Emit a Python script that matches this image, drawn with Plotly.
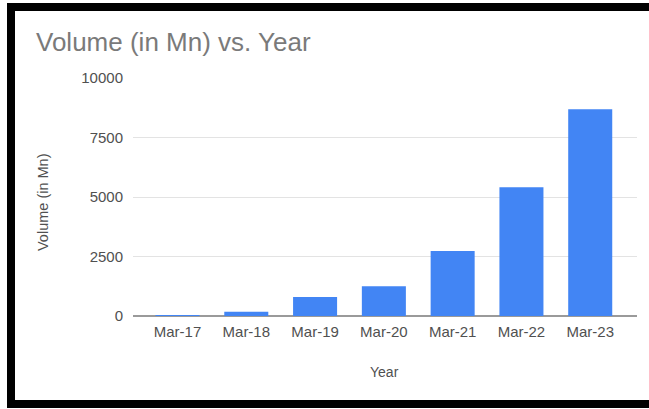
import plotly.graph_objects as go

# Monthly volume (in Mn) for each March
years = ["Mar-17", "Mar-18", "Mar-19", "Mar-20", "Mar-21", "Mar-22", "Mar-23"]
volume_mn = [6.37, 178.05, 799.54, 1246.84, 2731.68, 5405.65, 8685.28]
y_ticks = [0, 2500, 5000, 7500, 10000]

W, H = 649, 409
ML, MR, MT, MB = 133, 12, 78, 93
PW, PH = W - ML - MR, H - MT - MB


def px_x(px):
    return (px - ML) / PW


def px_y(py):
    return (H - MB - py) / PH


FONT = "Arial, Liberation Sans, sans-serif"
TEXT = "#505050"

fig = go.Figure(
    go.Bar(
        x=years,
        y=volume_mn,
        marker=dict(color="#4285F4", line=dict(width=0)),
    )
)

fig.update_layout(
    width=W,
    height=H,
    margin=dict(l=ML, r=MR, t=MT, b=MB, pad=0),
    paper_bgcolor="white",
    plot_bgcolor="white",
    bargap=0.36,
    showlegend=False,
    font=dict(family=FONT, color=TEXT),
)

fig.update_xaxes(
    type="category",
    range=[-0.647, 6.68],
    showgrid=False,
    zeroline=False,
    showline=False,
    ticks="",
    tickfont=dict(size=15, color=TEXT),
    ticklabelstandoff=5,
    fixedrange=True,
)

fig.update_yaxes(
    range=[0, 10000],
    tickvals=y_ticks,
    ticktext=[str(v) for v in y_ticks],
    showgrid=True,
    gridcolor="#e3e3e3",
    gridwidth=1,
    zeroline=True,
    zerolinecolor="#9a9a9a",
    zerolinewidth=1.5,
    showline=False,
    ticks="",
    tickfont=dict(size=15, color=TEXT),
    ticklabelstandoff=9,
    fixedrange=True,
)

annotations = [
    dict(text="Volume (in Mn) vs. Year", x=px_x(34), y=px_y(42),
         xanchor="left", yanchor="middle",
         font=dict(size=26, color="#7a7a7a", family=FONT)),
    dict(text="Volume (in Mn)", x=px_x(43), y=px_y(202), textangle=-90,
         xanchor="center", yanchor="middle",
         font=dict(size=14.5, color=TEXT, family=FONT)),
    dict(text="Year", x=px_x(384), y=px_y(372),
         xanchor="center", yanchor="middle",
         font=dict(size=14, color=TEXT, family=FONT)),
]
for a in annotations:
    a.update(xref="paper", yref="paper", showarrow=False)
fig.update_layout(annotations=annotations)

# Thick black frame around the chart card (its right side lies off-page)
fig.add_shape(
    type="rect", xref="paper", yref="paper",
    x0=px_x(11), x1=px_x(720), y0=px_y(404), y1=px_y(7),
    line=dict(color="black", width=8), fillcolor="rgba(0,0,0,0)",
    layer="above",
)

fig.write_html("out.html", config=dict(displayModeBar=False))
